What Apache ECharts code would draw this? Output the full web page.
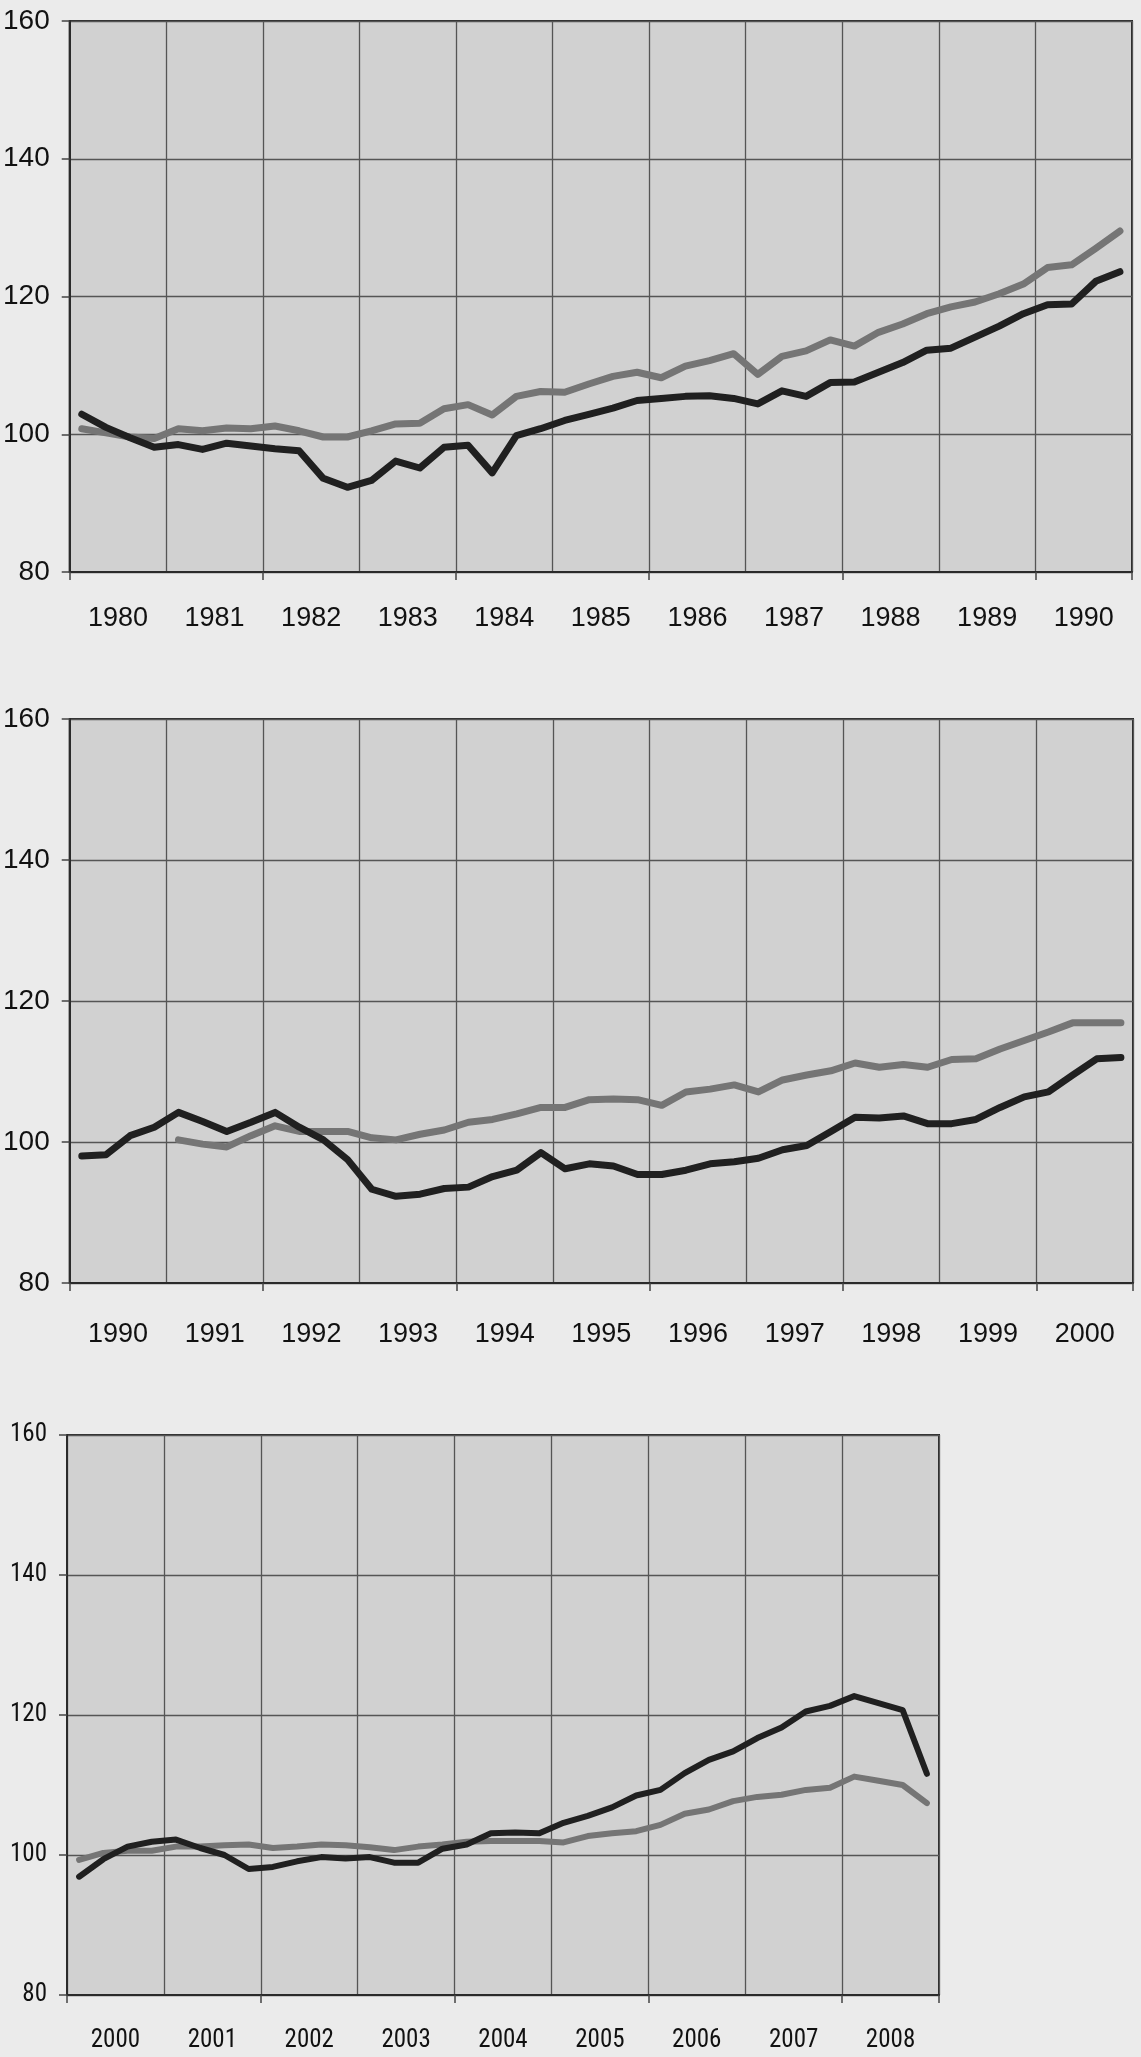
<!DOCTYPE html>
<html>
<head>
<meta charset="utf-8">
<script src="https://cdn.jsdelivr.net/npm/echarts@6/dist/echarts.min.js"></script>
<style>
  html, body { margin: 0; padding: 0; background: #ebebeb; }
  #chart { width: 1141px; height: 2057px; }
</style>
</head>
<body>
<div id="chart"></div>
<script>
// ---- Tick labels ----
const years1 = ['1980','1981','1982','1983','1984','1985','1986','1987','1988','1989','1990'];
const years2 = ['1990','1991','1992','1993','1994','1995','1996','1997','1998','1999','2000'];
const years3 = ['2000','2001','2002','2003','2004','2005','2006','2007','2008'];
const yTicks = [80, 100, 120, 140, 160];

// ---- Quarterly values (index: quarter from first year Q1) ----
// Panel 1: 1980-1990
const black1 = [102.9,101.0,99.5,98.1, 98.5,97.8,98.7,98.3, 97.9,97.6,93.6,92.3, 93.3,96.1,95.1,98.1,
                98.4,94.4,99.8,100.8, 102.0,102.9,103.8,104.9, 105.2,105.5,105.6,105.2, 104.4,106.3,105.5,107.5,
                107.6,109.0,110.4,112.2, 112.5,114.1,115.7,117.5, 118.8,118.9,122.2,123.6];
const gray1  = [100.8,100.2,99.6,99.4, 100.8,100.5,100.9,100.8, 101.2,100.5,99.6,99.6, 100.5,101.5,101.6,103.7,
                104.3,102.8,105.5,106.2, 106.1,107.3,108.4,109.0, 108.2,109.9,110.7,111.7, 108.7,111.3,112.1,113.7,
                112.8,114.8,116.0,117.5, 118.5,119.2,120.4,121.8, 124.2,124.6,127.0,129.5];
// Panel 2: 1990-2000
const black2 = [98.0,98.2,100.9,102.1, 104.2,102.9,101.5,102.8, 104.2,102.1,100.3,97.5, 93.3,92.3,92.6,93.4,
                93.6,95.1,96.0,98.5, 96.2,96.9,96.6,95.4, 95.4,96.0,96.9,97.2, 97.7,98.9,99.5,101.5,
                103.5,103.4,103.7,102.6, 102.6,103.2,104.9,106.4, 107.1,109.5,111.8,112.0];
const gray2  = [null,null,null,null, 100.3,99.7,99.3,100.9, 102.3,101.5,101.5,101.5, 100.6,100.3,101.1,101.7,
                102.8,103.2,104.0,104.9, 104.9,106.0,106.1,106.0, 105.2,107.1,107.5,108.1, 107.1,108.8,109.5,110.1,
                111.2,110.6,111.0,110.6, 111.7,111.8,113.2,114.4, 115.6,116.9,116.9,116.9];
// Panel 3: 2000-2008
const black3 = [96.9,99.4,101.2,101.9, 102.2,101.0,100.0,98.0, 98.3,99.1,99.7,99.5, 99.7,98.9,98.9,100.9,
                101.5,103.1,103.2,103.1, 104.6,105.6,106.8,108.5, 109.3,111.7,113.6,114.8, 116.7,118.2,120.5,121.3,
                122.7,121.7,120.7,111.6];
const gray3  = [99.3,100.3,100.6,100.6, 101.2,101.2,101.4,101.5, 101.0,101.2,101.5,101.4, 101.1,100.7,101.2,101.5,
                101.9,102.0,102.0,102.0, 101.8,102.7,103.1,103.4, 104.3,105.9,106.5,107.7, 108.3,108.6,109.3,109.6,
                111.2,110.6,110.0,107.4];

const toPts = arr => arr.map((v, k) => [(k + 0.5) / 4, v]);

const TEXT = '#111111';
const GRIDLINE = '#555555';
const BORDER = '#2a2a2a';
const BLACKLINE = '#202020';
const GRAYLINE = '#757575';

const panels = [
  { years: years1, black: black1, gray: gray1, left: 69, top: 21, width: 1063, height: 551,
    font: 'Liberation Sans', ySize: 28, xSize: 27, xMargin: 33, lw: 7 },
  { years: years2, black: black2, gray: gray2, left: 67, top: 719, width: 1066, height: 564,
    font: 'Liberation Sans', ySize: 28, xSize: 27, xMargin: 38, lw: 7 },
  { years: years3, black: black3, gray: gray3, left: 67, top: 1435, width: 872, height: 560,
    font: "'Liberation Sans Narrow', 'Arial Narrow', 'Roboto Condensed', 'Liberation Sans'", ySize: 25, xSize: 25, xMargin: 33, lw: 6 }
];

const grid = [], xAxis = [], yAxis = [], series = [];
panels.forEach((p, i) => {
  grid.push({
    left: p.left, top: p.top, width: p.width, height: p.height,
    show: true, backgroundColor: '#d1d1d1', borderColor: BORDER, borderWidth: 2
  });
  // category axis: year labels, vertical grid lines at year boundaries
  xAxis.push({
    type: 'category', gridIndex: i, data: p.years, boundaryGap: true, position: 'bottom',
    axisLine: { show: true, lineStyle: { color: BORDER, width: 2 } },
    axisTick: { show: true, interval: 1, length: 8, inside: false, lineStyle: { color: '#444', width: 1.5 } },
    axisLabel: { show: true, interval: 0, margin: p.xMargin, color: TEXT,
                 fontFamily: p.font, fontSize: p.xSize },
    splitLine: { show: true, interval: 0, lineStyle: { color: GRIDLINE, width: 1.3 } }
  });
  // hidden value axis for data positions (in years from panel start)
  xAxis.push({
    type: 'value', gridIndex: i, min: 0, max: p.years.length, show: false,
    splitLine: { show: false }
  });
  yAxis.push({
    type: 'value', gridIndex: i, min: yTicks[0], max: yTicks[yTicks.length - 1], interval: 20,
    axisLine: { show: true, lineStyle: { color: BORDER, width: 2 } },
    axisTick: { show: true, length: 8, inside: false, lineStyle: { color: '#444', width: 1.5 } },
    axisLabel: { margin: 20, color: TEXT, fontFamily: p.font, fontSize: p.ySize },
    splitLine: { show: true, lineStyle: { color: GRIDLINE, width: 1.3 } }
  });
  const xi = i * 2 + 1;
  series.push({
    type: 'line', xAxisIndex: xi, yAxisIndex: i, data: toPts(p.gray),
    showSymbol: false, symbol: 'none', connectNulls: false, animation: false,
    lineStyle: { color: GRAYLINE, width: p.lw, join: 'round', cap: 'round' }, z: 3
  });
  series.push({
    type: 'line', xAxisIndex: xi, yAxisIndex: i, data: toPts(p.black),
    showSymbol: false, symbol: 'none', animation: false,
    lineStyle: { color: BLACKLINE, width: p.lw, join: 'round', cap: 'round' }, z: 4
  });
});

const chart = echarts.init(document.getElementById('chart'), null, { renderer: 'canvas' });
chart.setOption({
  backgroundColor: '#ebebeb',
  animation: false,
  grid, xAxis, yAxis, series
});
</script>
</body>
</html>
